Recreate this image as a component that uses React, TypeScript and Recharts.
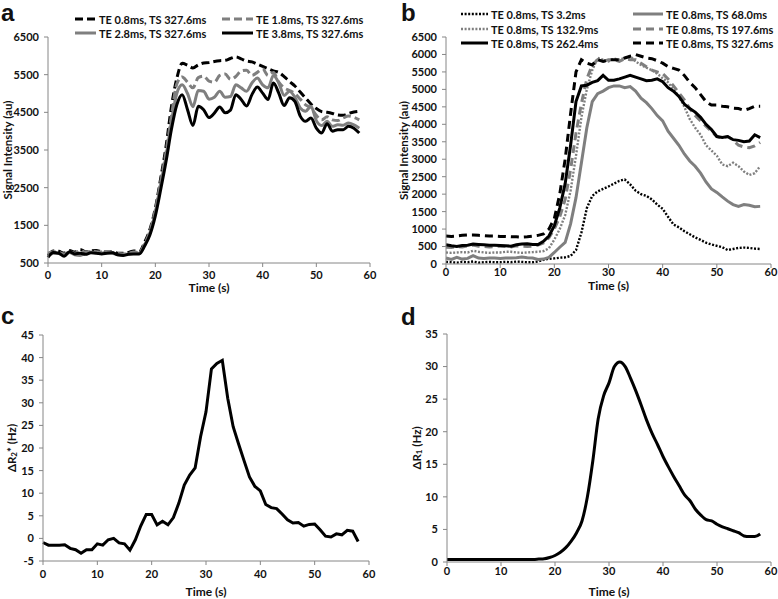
import React from "react";
import { LineChart, Line, XAxis, YAxis, Legend, Label } from "recharts";

// time axis (s)
const TIME = [
  0, 1, 2, 3, 4, 5, 6, 7, 8, 9, 10, 11, 12, 13, 14, 15, 16, 17, 18, 19, 20, 21, 22, 23, 24, 25, 26, 27, 28, 29,
  30, 31, 32, 33, 34, 35, 36, 37, 38, 39, 40, 41, 42, 43, 44, 45, 46, 47, 48, 49, 50, 51, 52, 53, 54, 55, 56, 57, 58,
];

// panel a: signal intensity for different TE
const A_TE08 = [
  700, 820, 810, 760, 830, 790, 860, 800, 820, 830, 800, 790, 800, 760, 760, 780, 820, 800, 1050, 1400,
  1950, 2750, 3600, 4650, 5400, 5800, 5750, 5680, 5760, 5810, 5820, 5850, 5870, 5880, 5930, 5970, 5920, 5860, 5840, 5780,
  5720, 5660, 5600, 5560, 5450, 5320, 5200, 5040, 4880, 4720, 4600, 4520, 4500, 4470, 4430, 4420, 4470, 4510, 4530,
];
const A_TE18 = [
  760, 800, 780, 740, 800, 760, 830, 790, 810, 800, 790, 780, 780, 750, 740, 760, 790, 780, 1000, 1350,
  1900, 2650, 3450, 4400, 5250, 5440, 5300, 5150, 5420, 5460, 5330, 5300, 5480, 5520, 5380, 5450, 5600, 5620, 5480, 5560,
  5650, 5480, 5560, 5300, 5150, 5080, 5000, 4850, 4700, 4620, 4420, 4300, 4380, 4300, 4280, 4350, 4400, 4370, 4300,
];
const A_TE28 = [
  680, 760, 750, 700, 780, 720, 700, 760, 790, 770, 760, 780, 760, 720, 720, 740, 760, 760, 980, 1300,
  1850, 2600, 3350, 4250, 5000, 5230, 5000, 4650, 5080, 5060, 4850, 4900, 5060, 4900, 4920, 5230, 5150, 5060, 5280, 5410,
  5230, 5150, 5480, 5280, 4950, 5060, 4900, 4620, 4530, 4660, 4280, 4150, 4260, 4130, 4170, 4160, 4220, 4170, 4080,
];
const A_TE38 = [
  650, 780, 760, 680, 800, 740, 760, 730, 770, 760, 740, 760, 770, 720, 700, 730, 740, 740, 950, 1250,
  1750, 2450, 3200, 4050, 4700, 4970, 4570, 4150, 4660, 4570, 4360, 4480, 4640, 4490, 4560, 4970, 4840, 4670, 4970, 5170,
  5010, 4840, 5280, 5010, 4680, 4890, 4790, 4400, 4260, 4350, 4080, 3950, 4200, 4000, 4040, 4040, 4130, 4080, 3950,
];

// panel b: signal intensity for different TS
const B_TS32 = [
  60, 50, 40, 60, 50, 70, 40, 50, 60, 50, 50, 60, 50, 70, 60, 50, 50, 70, 120, 150,
  160, 180, 190, 230, 400, 900, 1600, 1950, 2080, 2150, 2220, 2300, 2380, 2420, 2280, 2100, 2000, 1950, 1850, 1700,
  1580, 1350, 1130, 1050, 940, 850, 760, 690, 610, 560, 520, 480, 400, 430, 460, 470, 460, 440, 430,
];
const B_TS68 = [
  170, 130, 190, 140, 160, 240, 170, 160, 170, 170, 160, 170, 170, 180, 200, 180, 170, 130, 140, 190,
  330, 480, 620, 1150, 1900, 2900, 3900, 4650, 4880, 4950, 5050, 5100, 5100, 5050, 5080, 4950, 4750, 4620, 4450, 4250,
  4100, 3800, 3600, 3400, 3150, 2950, 2800, 2600, 2350, 2150, 2050, 1920, 1800, 1700, 1650, 1700, 1680, 1640, 1650,
];
const B_TS132 = [
  330, 320, 330, 340, 330, 380, 350, 330, 320, 330, 330, 350, 350, 330, 320, 330, 340, 350, 370, 450,
  700, 1000, 1400, 2100, 3100, 4200, 5000, 5550, 5900, 5850, 5800, 5880, 5850, 5900, 5950, 5800, 5700, 5620, 5550, 5450,
  5320, 5200, 5000, 4800, 4500, 4150, 3900, 3700, 3400, 3250, 3100, 2850, 2800, 2900, 2800, 2650, 2550, 2600, 2800,
];
const B_TS197 = [
  480, 470, 500, 490, 520, 540, 510, 500, 490, 500, 510, 500, 490, 520, 510, 500, 510, 540, 600, 750,
  1000, 1350, 1850, 2700, 3750, 4600, 5300, 5700, 5850, 5800, 5850, 5850, 5800, 5880, 5850, 5850, 5750, 5650, 5550, 5500,
  5450, 5300, 5100, 4900, 4700, 4450, 4250, 4100, 3950, 3800, 3650, 3600, 3650, 3550, 3400, 3350, 3330, 3380, 3480,
];
const B_TS262 = [
  550, 520, 500, 530, 540, 570, 560, 550, 540, 540, 530, 520, 510, 550, 570, 580, 560, 560, 650, 800,
  1100, 1600, 2300, 3400, 4650, 5100, 5120, 5200, 5250, 5400, 5260, 5260, 5300, 5350, 5400, 5350, 5300, 5250, 5260, 5300,
  5220, 5050, 4950, 4800, 4580, 4450, 4350, 4200, 4000, 3850, 3650, 3620, 3650, 3560, 3540, 3500, 3520, 3700, 3620,
];
const B_TS327 = [
  800, 790, 800, 820, 830, 830, 820, 810, 800, 800, 790, 790, 780, 780, 770, 780, 800, 820, 860, 1000,
  1300, 2000, 3000, 4300, 5500, 5850, 5750, 5700, 5850, 5800, 5850, 5850, 5850, 5900, 5950, 6000, 5950, 5900, 5880, 5820,
  5750, 5650, 5600, 5550, 5400, 5200, 5050, 4850, 4650, 4550, 4550, 4520, 4500, 4460, 4450, 4400, 4450, 4520, 4520,
];

// panel c: delta R2*
const C_R2 = [
  -0.9, -1.5, -1.5, -1.5, -1.4, -2.2, -2.5, -3.3, -2.5, -2.5, -1.2, -1.5, -0.3, 0, -1.0, -1.2, -2.6, -0.3, 2.8, 5.3,
  5.3, 3.0, 3.8, 3.0, 4.6, 7.8, 11.8, 14.0, 15.6, 22.5, 28.0, 37.5, 38.7, 39.4, 31.0, 24.7, 20.9, 17.2, 13.6, 11.5,
  10.5, 7.5, 6.8, 6.6, 5.4, 4.1, 3.4, 3.5, 2.7, 3.1, 3.2, 1.9, 0.5, 0.3, 1.0, 0.8, 1.8, 1.6, -0.7,
];

// panel d: delta R1
const D_R1 = [
  0.4, 0.4, 0.4, 0.4, 0.4, 0.4, 0.4, 0.4, 0.4, 0.4, 0.4, 0.4, 0.4, 0.4, 0.4, 0.4, 0.4, 0.45, 0.5, 0.7,
  1.0, 1.5, 2.2, 3.2, 4.5, 6.3, 10.0, 15.5, 22.0, 25.5, 27.5, 30.0, 30.7, 30.0, 28.2, 26.2, 24.0, 21.7, 19.7, 18.0,
  16.2, 14.6, 13.1, 11.7, 10.3, 9.4, 8.1, 7.2, 6.5, 6.3, 5.8, 5.4, 5.1, 4.8, 4.5, 4.0, 3.9, 3.9, 4.3,
];

const X_TICKS = [0, 10, 20, 30, 40, 50, 60];
const A_Y_TICKS = [500, 1500, 2500, 3500, 4500, 5500, 6500];
const B_Y_TICKS = [0, 500, 1000, 1500, 2000, 2500, 3000, 3500, 4000, 4500, 5000, 5500, 6000, 6500];
const C_Y_TICKS = [-5, 0, 5, 10, 15, 20, 25, 30, 35, 40, 45];
const D_Y_TICKS = [0, 5, 10, 15, 20, 25, 30, 35];

const FONT = "Lato, 'Open Sans', sans-serif";
const AXIS = "#868686";
const GRAY = "#7f7f7f";

type Series = { key: string; name: string; values: number[]; color: string; dash?: string; width: number };

const A_SERIES: Series[] = [
  { key: "te08", name: "TE 0.8ms, TS 327.6ms", values: A_TE08, color: "#000", dash: "8 4", width: 3 },
  { key: "te18", name: "TE 1.8ms, TS 327.6ms", values: A_TE18, color: GRAY, dash: "8 4", width: 3 },
  { key: "te28", name: "TE 2.8ms, TS 327.6ms", values: A_TE28, color: GRAY, width: 3 },
  { key: "te38", name: "TE 3.8ms, TS 327.6ms", values: A_TE38, color: "#000", width: 3 },
];

const B_SERIES: Series[] = [
  { key: "ts32", name: "TE 0.8ms, TS 3.2ms", values: B_TS32, color: "#000", dash: "2 1.6", width: 2.4 },
  { key: "ts68", name: "TE 0.8ms, TS 68.0ms", values: B_TS68, color: GRAY, width: 3 },
  { key: "ts132", name: "TE 0.8ms, TS 132.9ms", values: B_TS132, color: GRAY, dash: "2 1.6", width: 2.4 },
  { key: "ts197", name: "TE 0.8ms, TS 197.6ms", values: B_TS197, color: GRAY, dash: "8 5", width: 3 },
  { key: "ts262", name: "TE 0.8ms, TS 262.4ms", values: B_TS262, color: "#000", width: 3 },
  { key: "ts327", name: "TE 0.8ms, TS 327.6ms", values: B_TS327, color: "#000", dash: "8 5", width: 3 },
];

const toRows = (series: Series[]) =>
  TIME.map((t, i) => {
    const row: Record<string, number> = { t };
    series.forEach((s) => (row[s.key] = s.values[i]));
    return row;
  });

const A_DATA = toRows(A_SERIES);
const B_DATA = toRows(B_SERIES);
const C_DATA = TIME.map((t, i) => ({ t, v: C_R2[i] }));
const D_DATA = TIME.map((t, i) => ({ t, v: D_R1[i] }));

const tickStyle = { fontFamily: FONT, fontSize: 11, fontWeight: 700, fill: "#111" };

// legend laid out in two columns, drawn at fixed spots over the chart
const makeLegend =
  (series: Series[], colX: number[], lineW: number[], rowY: number[]) => () =>
    (
      <div style={{ position: "relative", width: 0, height: 0 }}>
        {series.map((s, i) => {
          const col = i % 2;
          const row = Math.floor(i / 2);
          return (
            <div
              key={s.key}
              style={{
                position: "absolute",
                left: colX[col],
                top: rowY[row] - 7,
                height: 14,
                display: "flex",
                alignItems: "center",
                whiteSpace: "nowrap",
                fontFamily: FONT,
                fontSize: 11,
                fontWeight: 700,
                color: "#111",
              }}
            >
              <svg width={lineW[col]} height={6} style={{ display: "block" }}>
                <line
                  x1={0}
                  y1={3}
                  x2={lineW[col]}
                  y2={3}
                  stroke={s.color}
                  strokeWidth={s.width}
                  strokeDasharray={s.dash}
                />
              </svg>
              <span style={{ marginLeft: 3 }}>{s.name}</span>
            </div>
          );
        })}
      </div>
    );

const XTitle = (props: any) => {
  const { viewBox, dy } = props;
  return (
    <text
      x={viewBox.x + viewBox.width / 2}
      y={viewBox.y + dy}
      textAnchor="middle"
      fontFamily={FONT}
      fontSize={12}
      fontWeight={700}
      fill="#111"
    >
      Time (s)
    </text>
  );
};

const YTitle = (props: any) => {
  const { viewBox, cx, main, sub, rest } = props;
  const cy = viewBox.y + viewBox.height / 2;
  return (
    <text
      x={cx}
      y={cy}
      transform={`rotate(-90, ${cx}, ${cy})`}
      textAnchor="middle"
      dominantBaseline="central"
      fontFamily={FONT}
      fontSize={11.5}
      fontWeight={700}
      fill="#111"
    >
      {main}
      {sub ? (
        <>
          <tspan dy={3} fontSize={8}>
            {sub}
          </tspan>
          <tspan dy={-3}>{rest}</tspan>
        </>
      ) : null}
    </text>
  );
};

const xAxisProps = {
  dataKey: "t",
  type: "number" as const,
  domain: [0, 60],
  ticks: X_TICKS,
  interval: 0,
  height: 30,
  stroke: AXIS,
  tickSize: 4,
  tick: tickStyle,
};

const yAxisProps = {
  interval: 0,
  stroke: AXIS,
  tickSize: 4,
  tickMargin: 5,
  tick: tickStyle,
};

const place = (left: number, top: number): React.CSSProperties => ({ position: "absolute", left, top });

export default function App() {
  return (
    <div
      style={{ position: "absolute", left: 0, top: 0, width: 778, height: 599, background: "#fff", overflow: "hidden" }}
    >
      {/* a */}
      <div style={place(0, 0)}>
        <LineChart width={390} height={300} data={A_DATA} margin={{ top: 37, right: 20, bottom: 7, left: 8 }}>
          <XAxis {...xAxisProps} tickMargin={4}>
            <Label content={(p: any) => <XTitle {...p} dy={29} />} />
          </XAxis>
          <YAxis {...yAxisProps} width={40} domain={[500, 6500]} ticks={A_Y_TICKS}>
            <Label content={(p: any) => <YTitle {...p} cx={7} main="Signal Intensity (au)" />} />
          </YAxis>
          <Legend
            wrapperStyle={{ left: 0, top: 0, width: 0, height: 0 }}
            content={makeLegend(A_SERIES, [75, 222], [21, 31], [19, 33])}
          />
          {A_SERIES.map((s) => (
            <Line
              key={s.key}
              type="monotone"
              dataKey={s.key}
              name={s.name}
              stroke={s.color}
              strokeWidth={s.width}
              strokeDasharray={s.dash}
              dot={false}
              isAnimationActive={false}
            />
          ))}
        </LineChart>
      </div>

      {/* b */}
      <div style={place(388, 0)}>
        <LineChart width={390} height={300} data={B_DATA} margin={{ top: 37, right: 7, bottom: 6, left: 18 }}>
          <XAxis {...xAxisProps} tickMargin={0}>
            <Label content={(p: any) => <XTitle {...p} dy={26} />} />
          </XAxis>
          <YAxis {...yAxisProps} width={40} domain={[0, 6500]} ticks={B_Y_TICKS}>
            <Label content={(p: any) => <YTitle {...p} cx={15} main="Signal Intensity (au)" />} />
          </YAxis>
          <Legend
            wrapperStyle={{ left: 0, top: 0, width: 0, height: 0 }}
            content={makeLegend(B_SERIES, [73, 245], [27, 30], [14, 29, 43])}
          />
          {B_SERIES.map((s) => (
            <Line
              key={s.key}
              type="linear"
              dataKey={s.key}
              name={s.name}
              stroke={s.color}
              strokeWidth={s.width}
              strokeDasharray={s.dash}
              dot={false}
              isAnimationActive={false}
            />
          ))}
        </LineChart>
      </div>

      {/* c */}
      <div style={place(0, 300)}>
        <LineChart width={390} height={299} data={C_DATA} margin={{ top: 35, right: 21, bottom: 8, left: 7 }}>
          <XAxis {...xAxisProps} tickMargin={5}>
            <Label content={(p: any) => <XTitle {...p} dy={35} />} />
          </XAxis>
          <YAxis {...yAxisProps} width={36} domain={[-5, 45]} ticks={C_Y_TICKS}>
            <Label content={(p: any) => <YTitle {...p} cx={11} main="ΔR" sub="2" rest="* (Hz)" />} />
          </YAxis>
          <Line type="linear" dataKey="v" stroke="#000" strokeWidth={3} dot={false} isAnimationActive={false} />
        </LineChart>
      </div>

      {/* d */}
      <div style={place(388, 300)}>
        <LineChart width={390} height={299} data={D_DATA} margin={{ top: 34, right: 7, bottom: 7, left: 29 }}>
          <XAxis {...xAxisProps} tickMargin={1}>
            <Label content={(p: any) => <XTitle {...p} dy={34} />} />
          </XAxis>
          <YAxis {...yAxisProps} width={30} domain={[0, 35]} ticks={D_Y_TICKS}>
            <Label content={(p: any) => <YTitle {...p} cx={28} main="ΔR" sub="1" rest=" (Hz)" />} />
          </YAxis>
          <Line type="monotone" dataKey="v" stroke="#000" strokeWidth={3} dot={false} isAnimationActive={false} />
        </LineChart>
      </div>

      {/* panel letters */}
      <svg width={778} height={599} style={{ position: "absolute", left: 0, top: 0, pointerEvents: "none" }}>
        <g fontFamily="'Liberation Sans', Arial, sans-serif" fontWeight={700} fontSize={24} fill="#111">
          <text x={1} y={21}>a</text>
          <text x={401} y={21}>b</text>
          <text x={1} y={324}>c</text>
          <text x={401} y={325}>d</text>
        </g>
      </svg>
    </div>
  );
}
